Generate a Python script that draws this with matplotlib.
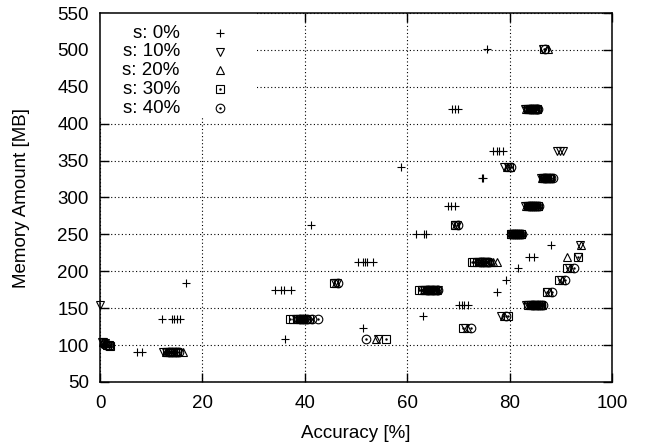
import matplotlib
matplotlib.use("Agg")
import matplotlib.pyplot as plt
from matplotlib.patches import Rectangle

plt.rcParams['font.family'] = ['Liberation Sans', 'DejaVu Sans']
plt.rcParams['font.size'] = 13.5

# s: 0%  (plus)
acc_s0 = [75.6, 68.7, 69.4, 69.9, 76.8, 77.5, 78.0, 78.7, 58.8, 74.7, 74.9,
          68.0, 68.6, 69.3, 41.2, 61.7, 63.3, 63.6, 88.1, 83.7, 84.8,
          50.4, 51.3, 51.8, 52.2, 53.3, 81.6, 79.3, 16.8,
          34.2, 35.4, 36.0, 37.4, 77.5, 70.2, 70.8, 71.1, 71.8, 63.1,
          12.1, 14.0, 14.5, 15.0, 15.7, 51.4, 36.2, 7.3, 8.2]
mem_s0 = [501, 420, 420, 420, 363, 363, 363, 363, 342, 327, 327,
          288, 288, 288, 263, 251, 251, 251, 235, 219, 219,
          212, 212, 212, 212, 212, 204, 188, 184,
          174, 174, 174, 174, 172, 155, 155, 155, 155, 140,
          136, 136, 136, 136, 136, 123, 108, 91, 91]

# s: 10%  (triangle down)
acc_s10 = [86.6, 83.0, 83.3, 83.6, 83.9, 84.2, 84.5, 84.8, 89.2, 89.8, 90.4, 79.0, 79.6,
           86.2, 86.5, 86.8, 87.1, 87.4, 83.1, 83.4, 83.7, 84.0, 84.3, 84.6, 85.0, 69.3, 69.8,
           80.2, 80.5, 80.7, 81.0, 81.3, 81.6, 81.9, 93.8, 93.4, 73.9, 74.3, 74.6, 74.9, 75.2,
           91.6, 90.0, 45.9, 46.3, 62.9, 63.3, 63.7, 64.1, 64.5, 64.9, 65.4, 66.1, 87.4,
           0.0, 83.2, 83.5, 83.8, 84.1, 84.5, 84.8, 85.2, 78.3, 38.2, 38.6, 39.0, 39.4, 39.8,
           71.2, 54.2, 0.3, 0.6, 0.9, 12.4, 12.8, 13.2, 13.6, 14.0]
mem_s10 = [501, 420, 420, 420, 420, 420, 420, 420, 363, 363, 363, 342, 342,
           327, 327, 327, 327, 327, 288, 288, 288, 288, 288, 288, 288, 263, 263,
           251, 251, 251, 251, 251, 251, 251, 235, 219, 212, 212, 212, 212, 212,
           204, 188, 184, 184, 174, 174, 174, 174, 174, 174, 174, 174, 172,
           155, 155, 155, 155, 155, 155, 155, 155, 140, 136, 136, 136, 136, 136,
           123, 108, 104, 104, 103, 91, 91, 91, 91, 91]

# s: 20%  (triangle up)
acc_s20 = [87.5, 83.2, 83.5, 83.8, 84.2, 84.6, 84.9, 85.2, 79.4, 80.0,
           86.4, 86.7, 87.0, 87.3, 87.6, 83.3, 83.6, 84.0, 84.4, 84.8, 85.2, 85.5, 69.6,
           80.3, 80.6, 81.0, 81.3, 81.6, 81.9, 82.2, 93.9, 91.2, 75.5, 75.9, 76.3, 76.7, 77.5,
           91.8, 90.3, 46.1, 63.2, 63.7, 64.2, 64.6, 65.0, 65.4, 65.8, 87.6,
           84.0, 84.5, 85.0, 85.4, 85.8, 86.3, 79.0, 38.8, 39.2, 39.6, 40.1, 40.6,
           71.6, 54.0, 0.6, 1.0, 1.3, 12.8, 13.2, 13.6, 14.0, 14.4, 16.3]
mem_s20 = [501, 420, 420, 420, 420, 420, 420, 420, 342, 342,
           327, 327, 327, 327, 327, 288, 288, 288, 288, 288, 288, 288, 263,
           251, 251, 251, 251, 251, 251, 251, 235, 219, 212, 212, 212, 212, 212,
           204, 188, 184, 174, 174, 174, 174, 174, 174, 174, 172,
           155, 155, 155, 155, 155, 155, 140, 136, 136, 136, 136, 136,
           123, 108, 104, 103, 103, 91, 91, 91, 91, 91, 91]

# s: 30%  (square)
acc_s30 = [86.8, 83.6, 84.0, 84.4, 84.7, 85.0, 85.4, 79.8,
           86.6, 87.0, 87.3, 87.6, 87.9, 83.5, 84.0, 84.4, 84.8, 85.2, 85.6, 69.4,
           80.2, 80.6, 81.0, 81.4, 81.8, 82.3, 93.4, 72.7, 73.1, 73.6, 74.1, 74.6, 75.1, 75.6,
           91.3, 89.6, 45.8, 62.4, 62.9, 63.5, 64.0, 64.5, 65.0, 65.4, 87.3,
           83.6, 84.1, 84.6, 85.0, 85.5, 85.9, 86.2, 79.6, 37.1, 37.7, 38.4, 39.0, 39.6, 40.2, 40.9,
           70.9, 55.9, 1.3, 1.7, 2.0, 13.0, 13.6, 14.2, 14.6, 15.0]
mem_s30 = [501, 420, 420, 420, 420, 420, 420, 342,
           327, 327, 327, 327, 327, 288, 288, 288, 288, 288, 288, 263,
           251, 251, 251, 251, 251, 251, 219, 212, 212, 212, 212, 212, 212, 212,
           204, 188, 184, 174, 174, 174, 174, 174, 174, 174, 172,
           155, 155, 155, 155, 155, 155, 155, 140, 136, 136, 136, 136, 136, 136, 136,
           123, 108, 100, 100, 99, 91, 91, 91, 91, 91]

# s: 40%  (circle)
acc_s40 = [86.9, 84.0, 84.4, 84.8, 85.1, 85.4, 85.6, 80.2,
           86.8, 87.2, 87.6, 88.0, 88.5, 83.8, 84.2, 84.6, 85.0, 85.3, 85.7, 69.9,
           80.5, 80.9, 81.3, 81.6, 82.0, 82.4, 74.2, 74.6, 75.0, 75.5, 76.0,
           92.5, 90.9, 46.5, 63.8, 64.3, 64.9, 65.3, 65.8, 66.0, 88.2,
           84.3, 84.8, 85.3, 85.7, 86.1, 86.5, 79.3, 39.0, 39.7, 40.4, 41.5, 42.6,
           72.4, 52.0, 0.8, 1.2, 1.6, 13.4, 14.0, 14.6, 15.0, 15.4]
mem_s40 = [501, 420, 420, 420, 420, 420, 420, 342,
           327, 327, 327, 327, 327, 288, 288, 288, 288, 288, 288, 263,
           251, 251, 251, 251, 251, 251, 212, 212, 212, 212, 212,
           204, 188, 184, 174, 174, 174, 174, 174, 174, 172,
           155, 155, 155, 155, 155, 155, 140, 136, 136, 136, 136, 136,
           123, 108, 101, 100, 100, 91, 91, 91, 91, 91]

labels = ["s: 0%", "s: 10%", "s: 20%", "s: 30%", "s: 40%"]
markers = ['+', 'v', '^', 's', 'o']
centre_dot = [False, False, False, True, True]
series = [(acc_s0, mem_s0), (acc_s10, mem_s10), (acc_s20, mem_s20),
          (acc_s30, mem_s30), (acc_s40, mem_s40)]

fig = plt.figure(figsize=(6.45, 4.47), dpi=100)
ax = fig.add_axes([100 / 645, 65 / 447, 512 / 645, 369 / 447])

ax.set_xlim(0, 100)
ax.set_ylim(50, 550)
ax.set_xticks(range(0, 101, 20))
ax.set_yticks(range(50, 551, 50))
ax.tick_params(direction='in', length=6.5, width=1, top=True, right=True)
ax.tick_params(axis='x', pad=9)
ax.tick_params(axis='y', pad=8)
for sp in ax.spines.values():
    sp.set_linewidth(1.1)

ax.set_axisbelow(True)
ax.grid(True, color='black', linestyle=(0, (1, 2.2)), linewidth=0.8)

# white area behind the key, like gnuplot's opaque key
ax.add_patch(Rectangle((0, 0.715), 0.307, 0.285, transform=ax.transAxes,
                       facecolor='white', edgecolor='none', zorder=1))

for (acc, mem), m, dot in zip(series, markers, centre_dot):
    ax.plot(acc, mem, linestyle='none', marker=m, markersize=6.2,
            mfc='none', mec='black', mew=0.8, clip_on=False, zorder=3)
    if dot:
        ax.plot(acc, mem, linestyle='none', marker='.', markersize=1.5,
                color='black', clip_on=False, zorder=3)

# key
key_y = [0.945, 0.895, 0.845, 0.793, 0.742]
for lab, m, dot, ky in zip(labels, markers, centre_dot, key_y):
    ax.text(0.156, ky, lab, transform=ax.transAxes, ha='right', va='center', zorder=4)
    ax.plot([0.234], [ky], transform=ax.transAxes, linestyle='none', marker=m,
            markersize=6.2, mfc='none', mec='black', mew=0.8, clip_on=False, zorder=4)
    if dot:
        ax.plot([0.234], [ky], transform=ax.transAxes, linestyle='none', marker='.',
                markersize=1.5, color='black', clip_on=False, zorder=4)

ax.set_xlabel("Accuracy [%]", labelpad=10)
ax.set_ylabel("Memory Amount [MB]", labelpad=20)

fig.savefig("out.png", dpi=100)
